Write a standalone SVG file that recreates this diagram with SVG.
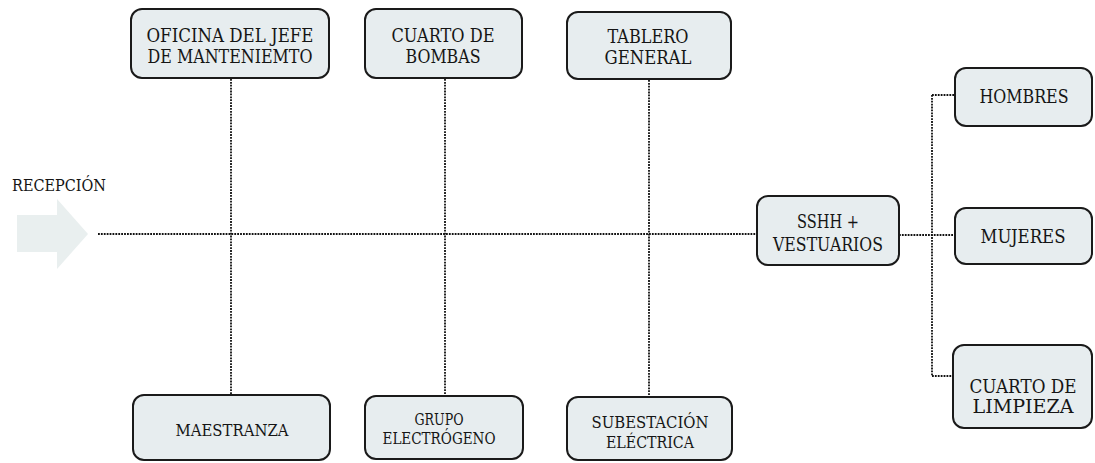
<svg xmlns="http://www.w3.org/2000/svg" width="1095" height="463" viewBox="0 0 1095 463">
<style>
.box{fill:#e7edef;stroke:#1a1a1a;stroke-width:2}
text{font-family:'DejaVu Serif','Liberation Serif',serif;fill:#151515;text-anchor:middle}
.c{fill:none;stroke:#111;stroke-width:1.8;stroke-dasharray:1.8 1.1}
</style>
<rect width="1095" height="463" fill="#ffffff"/>
<g id="recepcion">
<polygon points="17,215 57,215 57,199 88,234 57,269 57,252 17,252" fill="#e9efef"/>
<text x="12" y="191" style="text-anchor:start" font-size="16.5" textLength="94" lengthAdjust="spacingAndGlyphs">RECEPCIÓN</text>
</g>
<g id="connectors">
<path class="c" d="M98 234 H757"/>
<path class="c" d="M231 79 V395"/>
<path class="c" d="M445 79 V396"/>
<path class="c" d="M649 80 V397"/>
<path class="c" d="M899 235 H955"/>
<path class="c" d="M932 95 V376"/>
<path class="c" d="M932 95 H955"/>
<path class="c" d="M932 376 H953"/>
</g>
<g id="oficina">
<rect class="box" x="131" y="9" width="198" height="69" rx="11"/>
<text font-size="18.5" x="230" y="42" textLength="167" lengthAdjust="spacingAndGlyphs">OFICINA DEL JEFE</text>
<text font-size="18.5" x="230" y="63" textLength="165" lengthAdjust="spacingAndGlyphs">DE MANTENIEMTO</text>
</g>
<g id="bombas">
<rect class="box" x="365" y="9" width="157" height="69" rx="11"/>
<text font-size="18" x="443" y="42" textLength="103" lengthAdjust="spacingAndGlyphs">CUARTO DE</text>
<text font-size="18" x="443" y="63" textLength="75" lengthAdjust="spacingAndGlyphs">BOMBAS</text>
</g>
<g id="tablero">
<rect class="box" x="567" y="12" width="164" height="67" rx="11"/>
<text font-size="18" x="648" y="43" textLength="81" lengthAdjust="spacingAndGlyphs">TABLERO</text>
<text font-size="18" x="648" y="64" textLength="87" lengthAdjust="spacingAndGlyphs">GENERAL</text>
</g>
<g id="maestranza">
<rect class="box" x="133" y="395" width="197" height="65" rx="11"/>
<text font-size="17" x="232" y="436" textLength="113" lengthAdjust="spacingAndGlyphs">MAESTRANZA</text>
</g>
<g id="grupo">
<rect class="box" x="365" y="396" width="158" height="63" rx="11"/>
<text font-size="16" x="439" y="425" textLength="49" lengthAdjust="spacingAndGlyphs">GRUPO</text>
<text font-size="16" x="439" y="444" textLength="113" lengthAdjust="spacingAndGlyphs">ELECTRÓGENO</text>
</g>
<g id="subestacion">
<rect class="box" x="567" y="397" width="165" height="63" rx="11"/>
<text font-size="17.5" x="650" y="428" textLength="117" lengthAdjust="spacingAndGlyphs">SUBESTACIÓN</text>
<text font-size="17.5" x="650" y="448" textLength="88" lengthAdjust="spacingAndGlyphs">ELÉCTRICA</text>
</g>
<g id="sshh">
<rect class="box" x="757" y="196" width="142" height="69" rx="11"/>
<text font-size="18" x="828" y="228" textLength="62" lengthAdjust="spacingAndGlyphs">SSHH +</text>
<text font-size="18" x="828" y="251" textLength="110" lengthAdjust="spacingAndGlyphs">VESTUARIOS</text>
</g>
<g id="hombres">
<rect class="box" x="955" y="68" width="137" height="58" rx="11"/>
<text font-size="18.5" x="1024" y="103" textLength="89" lengthAdjust="spacingAndGlyphs">HOMBRES</text>
</g>
<g id="mujeres">
<rect class="box" x="955" y="208" width="137" height="56" rx="11"/>
<text font-size="18.5" x="1023" y="243" textLength="85" lengthAdjust="spacingAndGlyphs">MUJERES</text>
</g>
<g id="limpieza">
<rect class="box" x="953" y="345" width="139" height="83" rx="11"/>
<text font-size="18.5" x="1023" y="393" textLength="107" lengthAdjust="spacingAndGlyphs">CUARTO DE</text>
<text font-size="18.5" x="1023" y="413" textLength="101" lengthAdjust="spacingAndGlyphs">LIMPIEZA</text>
</g>
</svg>
